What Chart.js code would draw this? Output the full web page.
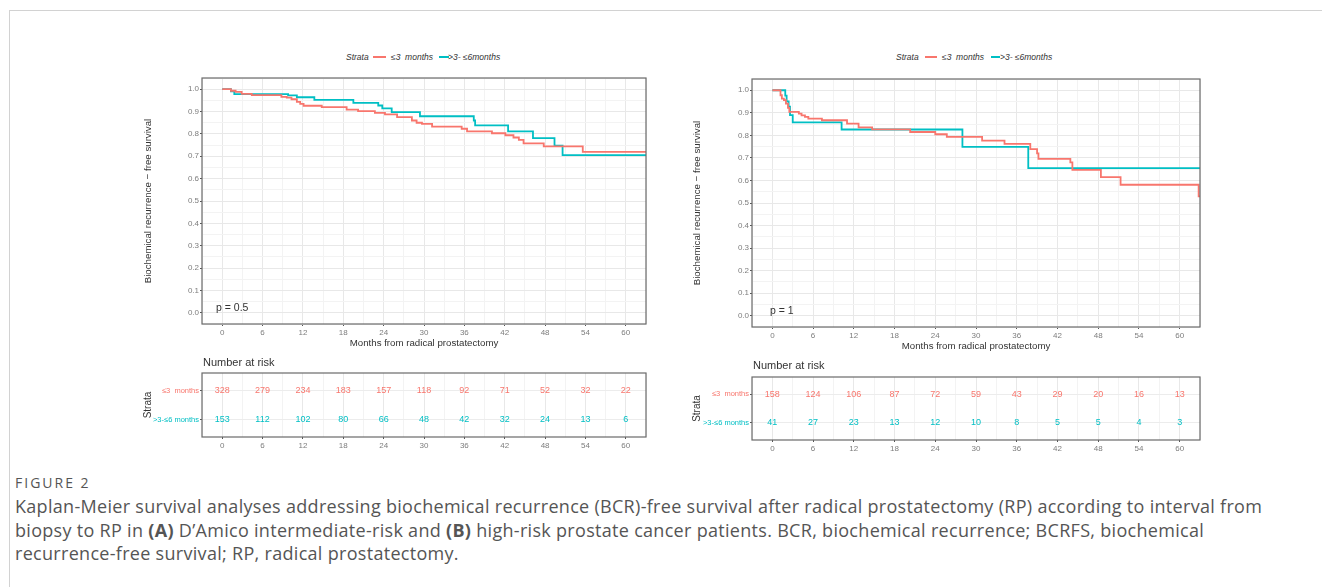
<!DOCTYPE html>
<html>
<head>
<meta charset="utf-8">
<script src="https://cdn.jsdelivr.net/npm/chart.js@4.4.1/dist/chart.umd.min.js"></script>
<style>
    body { margin: 0; background: #fff; width: 1322px; height: 587px; overflow: hidden; position: relative; font-family: "Liberation Sans", Arial, sans-serif; }
    .frame { position: absolute; left: 9px; top: 10px; right: 0; bottom: -2px; border-left: 1px solid #d2d2d2; border-top: 1px solid #d2d2d2; }
    canvas { position: absolute; }
    .t { position: absolute; white-space: nowrap; color: #333; line-height: 1; }
    .leg { position: absolute; white-space: nowrap; font-style: italic; font-size: 8.5px; color: #333; line-height: 10px; }
    .sw { position: absolute; height: 2px; }
    .caph { position: absolute; left: 15px; top: 475px; font-family: "Open Sans", sans-serif; font-size: 14px; color: #555; letter-spacing: 2px; line-height: 16px; }
    .cap { position: absolute; left: 15px; top: 495px; font-family: "Open Sans", sans-serif; font-size: 18px; letter-spacing: 0.3px; color: #555; line-height: 23.7px; white-space: nowrap; }
</style>
</head>
<body>
<div class="frame"></div>

<!-- legends -->
<div class="leg" style="left:346px;top:52px">Strata</div>
<div class="sw" style="left:373px;top:56px;width:13px;background:#F8766D"></div>
<div class="leg" style="left:391px;top:52px">≤3&nbsp; months</div>
<div class="sw" style="left:439px;top:56px;width:10px;background:#00BFC4"></div>
<div class="leg" style="left:448px;top:52px">&gt;3- ≤6months</div>

<div class="leg" style="left:896px;top:52px">Strata</div>
<div class="sw" style="left:925px;top:56px;width:12px;background:#F8766D"></div>
<div class="leg" style="left:942px;top:52px">≤3&nbsp; months</div>
<div class="sw" style="left:991px;top:56px;width:9px;background:#00BFC4"></div>
<div class="leg" style="left:1000px;top:52px">&gt;3- ≤6months</div>

<canvas id="kmA" width="520" height="290" style="left:140px;top:70px"></canvas>
<canvas id="kmB" width="520" height="290" style="left:690px;top:70px"></canvas>
<canvas id="riskA" width="520" height="95" style="left:140px;top:365px"></canvas>
<canvas id="riskB" width="520" height="95" style="left:690px;top:368px"></canvas>

<div class="t" style="left:216px;top:302px;font-size:10.5px">p = 0.5</div>
<div class="t" style="left:770px;top:305px;font-size:10.5px">p = 1</div>
<div class="t" style="left:203px;top:357px;font-size:11px">Number at risk</div>
<div class="t" style="left:753px;top:360px;font-size:11px">Number at risk</div>

<div class="caph">FIGURE 2</div>
<div class="cap">Kaplan-Meier survival analyses addressing biochemical recurrence (BCR)-free survival after radical prostatectomy (RP) according to interval from<br>biopsy to RP in <b>(A)</b> D’Amico intermediate-risk and <b>(B)</b> high-risk prostate cancer patients. BCR, biochemical recurrence; BCRFS, biochemical<br>recurrence-free survival; RP, radical prostatectomy.</div>

<script>
// Dữ liệu
const RED = '#F8766D';
const TEAL = '#00BFC4';
const strataLabels = ['≤3  months', '>3-≤6 months'];

// (A) intermediate-risk
const aShortTimes = [0, 1.3, 2.0, 2.9, 4.4, 8.8, 9.6, 10.3, 11.1, 11.6, 12.1, 14.8, 18.5, 20.2, 22.7, 24.2, 26.0, 28.2, 28.9, 29.7, 31.2, 35.6, 36.4, 40.1, 42.1, 43.3, 44.1, 44.8, 47.8, 53.6, 63.5];
const aShortSurv  = [1, 0.993, 0.988, 0.979, 0.973, 0.966, 0.962, 0.955, 0.943, 0.934, 0.926, 0.92, 0.909, 0.902, 0.894, 0.887, 0.875, 0.86, 0.85, 0.845, 0.833, 0.823, 0.811, 0.803, 0.794, 0.784, 0.773, 0.758, 0.744, 0.72, 0.72];
const aLongTimes  = [0, 1.3, 1.8, 9.8, 11.1, 13.7, 19.5, 23.2, 23.8, 25.2, 29.4, 37.4, 37.6, 42.5, 46.2, 49.4, 50.6, 63.5];
const aLongSurv   = [1, 0.99, 0.978, 0.972, 0.964, 0.952, 0.939, 0.927, 0.914, 0.897, 0.879, 0.86, 0.838, 0.811, 0.781, 0.747, 0.705, 0.705];

// (B) high-risk
const bShortTimes = [0, 1.2, 1.4, 1.7, 2.0, 2.3, 2.5, 3.9, 4.3, 4.8, 5.3, 7.3, 11.0, 12.7, 14.7, 20.3, 24.0, 25.7, 30.9, 34.2, 38.0, 39.0, 39.2, 43.9, 44.2, 48.4, 51.3, 62.8, 63.5];
const bShortSurv  = [1, 0.978, 0.963, 0.956, 0.941, 0.922, 0.904, 0.896, 0.889, 0.882, 0.874, 0.867, 0.852, 0.835, 0.827, 0.815, 0.805, 0.793, 0.777, 0.762, 0.739, 0.72, 0.696, 0.68, 0.647, 0.615, 0.581, 0.529, 0.529];
const bLongTimes  = [0, 1.9, 2.1, 2.4, 2.6, 3.0, 10.2, 28.0, 37.7, 63.5];
const bLongSurv   = [1, 0.976, 0.951, 0.927, 0.89, 0.858, 0.826, 0.749, 0.655, 0.655];

// Number at risk
const riskTimes = [0, 6, 12, 18, 24, 30, 36, 42, 48, 54, 60];
const aRiskShort = [328, 279, 234, 183, 157, 118, 92, 71, 52, 32, 22];
const aRiskLong  = [153, 112, 102, 80, 66, 48, 42, 32, 24, 13, 6];
const bRiskShort = [158, 124, 106, 87, 72, 59, 43, 29, 20, 16, 13];
const bRiskLong  = [41, 27, 23, 13, 12, 10, 8, 5, 5, 4, 3];

const FONT = '"Liberation Sans", Arial, sans-serif';
Chart.defaults.font.family = FONT;

// lưới: chính mỗi 6 tháng, phụ mỗi 3 tháng
const xGrid = [];
for (let v = -3; v <= 63; v += 3) xGrid.push(v);
const yGrid = [];
for (let i = -1; i <= 21; i++) yGrid.push(i / 20);

const isMajorX = v => v >= 0 && v <= 60 && v % 6 === 0;
const isMajorY = v => v > -0.01 && v < 1.01 && Math.round(v * 100) % 10 === 0;

function xy(times, surv) {
    return times.map((t, i) => ({ x: t, y: surv[i] }));
}

// viền khung panel
const panelBorder = {
    id: 'panelBorder',
    afterDraw(chart) {
        const a = chart.chartArea;
        const c = chart.ctx;
        c.save();
        c.strokeStyle = '#6a6a6a';
        c.lineWidth = 1.2;
        c.strokeRect(a.left, a.top, a.right - a.left, a.bottom - a.top);
        c.restore();
    }
};

// số bệnh nhân tại điểm
const riskText = {
    id: 'riskText',
    afterDatasetsDraw(chart) {
        const c = chart.ctx;
        c.save();
        c.font = '9px ' + FONT;
        c.textAlign = 'center';
        c.textBaseline = 'middle';
        chart.data.datasets.forEach((ds, di) => {
            c.fillStyle = ds.borderColor;
            chart.getDatasetMeta(di).data.forEach((pt, i) => {
                c.fillText(String(ds.data[i].n), pt.x, pt.y);
            });
        });
        c.restore();
    }
};

function xScale(axisHeight, title, titlePad) {
    return {
        type: 'linear',
        min: -3,
        max: 63,
        afterBuildTicks: s => { s.ticks = xGrid.map(v => ({ value: v })); },
        afterFit: s => { s.height = axisHeight; },
        border: { display: false },
        grid: {
            color: ctx => isMajorX(ctx.tick.value) ? '#e8e8e8' : '#f3f3f3',
            lineWidth: 1,
            tickLength: 2,
            tickColor: ctx => isMajorX(ctx.tick.value) ? '#555' : 'rgba(0,0,0,0)'
        },
        ticks: {
            autoSkip: false,
            maxRotation: 0,
            padding: 2,
            color: '#7d7d7d',
            font: { size: 8 },
            callback: v => isMajorX(v) ? String(v) : ''
        },
        title: title ? { display: true, text: title, color: '#333', font: { size: 9.7 }, padding: { top: 0, bottom: titlePad } } : { display: false }
    };
}

function kmChart(id, st, ss, lt, ls, opt) {
    return new Chart(document.getElementById(id), {
        type: 'line',
        data: {
            datasets: [
                { label: strataLabels[0], data: xy(st, ss), borderColor: RED, borderWidth: 1.8, stepped: true, pointRadius: 0, fill: false },
                { label: strataLabels[1], data: xy(lt, ls), borderColor: TEAL, borderWidth: 1.8, stepped: true, pointRadius: 0, fill: false }
            ]
        },
        options: {
            responsive: false,
            animation: false,
            layout: { padding: { top: opt.top, right: opt.right, left: 0, bottom: 0 } },
            plugins: { legend: { display: false }, tooltip: { enabled: false } },
            scales: {
                x: xScale(opt.xh, 'Months from radical prostatectomy', opt.xpad),
                y: {
                    type: 'linear',
                    min: -0.05,
                    max: 1.05,
                    afterBuildTicks: s => { s.ticks = yGrid.map(v => ({ value: v })); },
                    afterFit: s => { s.width = 62; },
                    border: { display: false },
                    grid: {
                        color: ctx => isMajorY(ctx.tick.value) ? '#e8e8e8' : '#f3f3f3',
                        lineWidth: 1,
                        tickLength: 2,
                        tickColor: ctx => isMajorY(ctx.tick.value) ? '#555' : 'rgba(0,0,0,0)'
                    },
                    ticks: {
                        autoSkip: false,
                        padding: 1,
                        color: '#7d7d7d',
                        font: { size: 8 },
                        callback: v => isMajorY(v) ? v.toFixed(1) : ''
                    },
                    title: { display: true, text: 'Biochemical recurrence − free survival', color: '#333', font: { size: 9.7 }, padding: { top: opt.ypad, bottom: 0 } }
                }
            }
        },
        plugins: [panelBorder]
    });
}

function riskChart(id, shortVals, longVals, opt) {
    return new Chart(document.getElementById(id), {
        type: 'scatter',
        data: {
            datasets: [
                { label: strataLabels[0], data: riskTimes.map((t, i) => ({ x: t, y: 2, n: shortVals[i] })), borderColor: RED, pointRadius: 0 },
                { label: strataLabels[1], data: riskTimes.map((t, i) => ({ x: t, y: 1, n: longVals[i] })), borderColor: TEAL, pointRadius: 0 }
            ]
        },
        options: {
            responsive: false,
            animation: false,
            layout: { padding: { top: opt.top, right: opt.right, left: 0, bottom: 0 } },
            plugins: { legend: { display: false }, tooltip: { enabled: false } },
            scales: {
                x: xScale(opt.xh, null, 0),
                y: {
                    type: 'linear',
                    min: 0.4,
                    max: 2.6,
                    afterBuildTicks: s => { s.ticks = [{ value: 1 }, { value: 2 }]; },
                    afterFit: s => { s.width = 62; },
                    border: { display: false },
                    grid: { color: '#ececec', lineWidth: 1, tickLength: 2, tickColor: '#555' },
                    ticks: {
                        padding: 1,
                        font: { size: 7.5 },
                        color: ctx => ctx.tick && ctx.tick.value === 2 ? RED : TEAL,
                        callback: v => v === 2 ? strataLabels[0] : strataLabels[1]
                    },
                    title: { display: true, text: 'Strata', color: '#333', font: { size: 10 }, padding: { top: opt.ypad, bottom: 0 } }
                }
            }
        },
        plugins: [panelBorder, riskText]
    });
}

kmChart('kmA', aShortTimes, aShortSurv, aLongTimes, aLongSurv, { top: 8, right: 14, xh: 36, xpad: 11, ypad: 3 });
kmChart('kmB', bShortTimes, bShortSurv, bLongTimes, bLongSurv, { top: 9, right: 10, xh: 33, xpad: 8, ypad: 1.5 });
riskChart('riskA', aRiskShort, aRiskLong, { top: 8, right: 14, xh: 23, ypad: 2 });
riskChart('riskB', bRiskShort, bRiskLong, { top: 9, right: 10, xh: 23, ypad: 1 });
</script>
</body>
</html>
